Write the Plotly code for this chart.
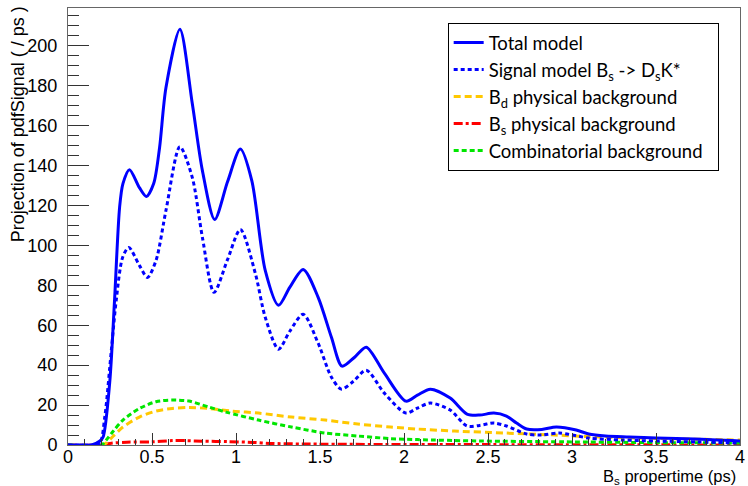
import plotly.graph_objects as go

# ---- data ----
x_total = [0, 0.10, 0.14, 0.19, 0.209, 0.248, 0.277, 0.307, 0.327, 0.366, 0.425, 0.467, 0.51,
           0.545, 0.583, 0.666, 0.74, 0.80, 0.873, 0.95, 1.026, 1.094, 1.174, 1.253, 1.32, 1.40,
           1.489, 1.568, 1.631, 1.706, 1.775, 1.883, 2.011, 2.08, 2.157, 2.275, 2.375, 2.45,
           2.535, 2.61, 2.67, 2.73, 2.82, 2.907, 3.025, 3.10, 3.20, 3.34, 3.50, 3.73, 4.0]
y_total = [0, 0, 0, 2, 4, 31, 72.5, 119, 131, 138, 129, 124.5, 131,
           149, 179, 208.3, 171, 137.5, 113, 132, 148.3, 132.5, 87.5, 70, 79, 88,
           74, 54, 39.5, 44, 49, 36, 22, 25, 28, 23.5, 15.5, 15,
           16, 14.5, 11, 8, 7.8, 9, 7.5, 5.5, 4.5, 4, 3.5, 3, 2]

x_signal = [0, 0.15, 0.19, 0.219, 0.258, 0.287, 0.325, 0.362, 0.425, 0.473, 0.524, 0.583,
            0.666, 0.74, 0.80, 0.869, 0.95, 1.026, 1.115, 1.174, 1.253, 1.32, 1.40, 1.489,
            1.568, 1.627, 1.70, 1.775, 1.883, 2.011, 2.08, 2.157, 2.275, 2.375, 2.45, 2.535,
            2.61, 2.73, 2.82, 2.925, 3.10, 3.30, 3.50, 3.75, 4.0]
y_signal = [0, 0, 1, 14, 47.5, 72.5, 94, 99, 90, 84, 92.5, 117.5,
            149.5, 134, 104, 76.5, 93, 108, 86, 64, 48, 57, 65.5, 51,
            34, 28, 32, 37.5, 26, 16, 18.5, 21, 17.5, 9.5, 9.8, 11,
            9.5, 5.5, 5, 6, 3.5, 2.5, 2, 1.5, 1]

x_bd = [0, 0.20, 0.228, 0.27, 0.327, 0.425, 0.524, 0.62, 0.72, 0.839, 0.977, 1.134, 1.33,
        1.53, 1.725, 1.92, 2.08, 2.3, 2.6, 2.9, 3.1, 3.5, 4.0]
y_bd = [0, 0, 1, 4.5, 9, 14, 17, 18.3, 18.8, 18.3, 17, 16, 14,
        12.5, 10.5, 9, 8, 7, 6, 5, 4.2, 3.3, 2.5]

x_bs = [0, 0.20, 0.25, 0.35, 0.5, 0.62, 0.7, 0.8, 0.95, 1.1, 1.2, 1.4, 1.8, 2.5, 3.0, 4.0]
y_bs = [0, 0, 0.8, 1.4, 1.6, 2.2, 2.2, 1.9, 1.7, 1.3, 0.8, 0.5, 0.3, 0.2, 0.1, 0.05]

x_comb = [0, 0.20, 0.228, 0.27, 0.327, 0.425, 0.524, 0.62, 0.72, 0.839, 0.94, 1.134, 1.33,
          1.53, 1.725, 1.92, 2.08, 2.45, 2.95, 3.5, 4.0]
y_comb = [0, 0, 2.5, 7, 12.5, 18.3, 21.7, 22.5, 22, 19, 16.5, 12.5, 9,
          6, 4.5, 3.2, 2.7, 2, 1.6, 1.2, 1]

names = ["Total model",
         "Signal model B<sub>s</sub> -&gt; D<sub>s</sub>K*",
         "B<sub>d</sub> physical background",
         "B<sub>s</sub> physical background",
         "Combinatorial background&nbsp;&nbsp;"]

# ---- figure ----
fig = go.Figure()
series = [
    (x_bs, y_bs, names[3], "#ff0000", "dashdot"),
    (x_bd, y_bd, names[2], "#ffc800", "7px,4px"),
    (x_comb, y_comb, names[4], "#00e600", "5px,3px"),
    (x_signal, y_signal, names[1], "#0000ff", "4px,3px"),
    (x_total, y_total, names[0], "#0000ff", "solid"),
]
order = {names[i]: i for i in range(5)}
for xs, ys, nm, col, dash in series:
    fig.add_trace(go.Scatter(
        x=xs, y=ys, name=nm, mode="lines",
        line=dict(color=col, width=3, dash=dash, shape="spline", smoothing=0.8),
        legendrank=order[nm] + 1,
    ))

fig.update_layout(
    width=748, height=486,
    margin=dict(l=68, r=3, t=8, b=41),
    paper_bgcolor="white", plot_bgcolor="white",
    showlegend=True,
    legend=dict(
        x=0.565, y=0.966, xanchor="left", yanchor="top",
        bgcolor="white", bordercolor="black", borderwidth=1,
        font=dict(family="Lato", size=18.5, color="black"),
    ),
    font=dict(family="Liberation Sans", color="black"),
)

fig.update_xaxes(
    range=[0, 4], dtick=0.5, tick0=0,
    showgrid=False, zeroline=False,
    showline=True, linecolor="#666", linewidth=1, mirror=True,
    ticks="inside", ticklen=12, tickcolor="#333", tickwidth=1,
    ticklabelstandoff=-5, ticklabeloverflow="allow",
    tickfont=dict(family="Liberation Sans", size=18, color="black"),
    minor=dict(dtick=0.1, ticks="inside", ticklen=6, tickcolor="#333", showgrid=False),
)
fig.update_yaxes(
    range=[0, 219], dtick=20, tick0=0,
    showgrid=False, zeroline=False,
    showline=True, linecolor="#666", linewidth=1, mirror=True,
    ticks="inside", ticklen=21, tickcolor="#333", tickwidth=1,
    ticklabelstandoff=6,
    tickfont=dict(family="Liberation Sans", size=18, color="black"),
    minor=dict(dtick=5, ticks="inside", ticklen=11, tickcolor="#333", showgrid=False),
)

fig.add_annotation(
    text="Projection of pdfSignal ( / ps )", textangle=-90,
    xref="paper", yref="paper", x=-0.074, y=1.009,
    xanchor="center", yanchor="top", showarrow=False,
    font=dict(family="Liberation Sans", size=18, color="black"),
)
fig.add_annotation(
    text="B<sub>s</sub> propertime (ps)",
    xref="paper", yref="paper", x=0.997, y=-0.073,
    xanchor="right", yanchor="middle", showarrow=False,
    font=dict(family="Liberation Sans", size=16.5, color="black"),
)

fig.write_html("out.html")
